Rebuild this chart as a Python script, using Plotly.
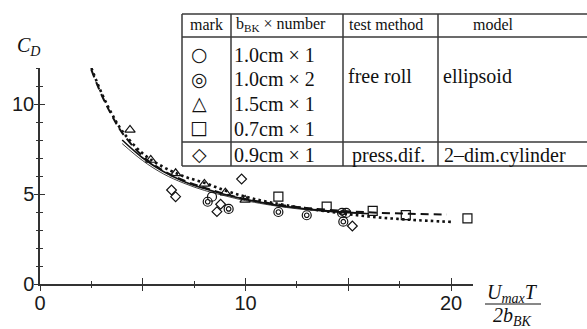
import plotly.graph_objects as go

# ---------------- data ----------------
circle_x = [8.37, 14.9]
circle_y = [4.85, 3.95]

dcircle_x = [8.16, 9.18, 11.6, 12.98, 14.7, 14.76]
dcircle_y = [4.57, 4.17, 4.0, 3.82, 3.95, 3.46]

triangle_x = [4.38, 5.39, 6.6, 8.0, 9.02, 9.98]
triangle_y = [8.56, 6.89, 6.15, 5.56, 5.07, 4.67]

square_x = [11.6, 13.95, 16.19, 17.8, 20.8]
square_y = [4.85, 4.3, 4.06, 3.83, 3.65]

diamond_x = [6.4, 6.6, 9.81, 8.79, 8.61, 15.2]
diamond_y = [5.22, 4.85, 5.83, 4.43, 4.02, 3.22]

dotted_x = [2.5, 3, 3.5, 4, 5, 6, 7, 8, 9, 10, 11, 12, 14, 16, 18, 20]
dotted_y = [12.0, 10.6, 9.45, 8.5, 7.25, 6.5, 5.98, 5.62, 5.2, 4.85, 4.58, 4.37, 4.03, 3.75, 3.57, 3.45]

dashed_x = [2.5, 3, 3.5, 4, 5, 6, 7, 8, 9, 10, 12, 14, 16, 18, 19.8]
dashed_y = [11.9, 10.5, 9.35, 8.4, 7.1, 6.3, 5.75, 5.35, 5.0, 4.72, 4.35, 4.12, 3.98, 3.9, 3.86]

solid_x = [4, 5, 6, 7, 8, 9, 10, 11, 12, 14, 16]
solid_y = [8.0, 7.0, 6.25, 5.7, 5.3, 4.97, 4.7, 4.48, 4.3, 4.06, 3.9]

solid2_x = [4, 5, 6, 7, 8, 9, 10, 12, 14, 15.5]
solid2_y = [7.8, 6.85, 6.12, 5.6, 5.2, 4.9, 4.63, 4.25, 4.02, 3.92]

x_label_ticks = [0, 10, 20]
x_tick_labels = ["0", "10", "20"]
x_major_ticks = [0, 5, 10, 15, 20]
x_mid_ticks = [5, 15]
x_minor_ticks = [2.5, 7.5, 12.5, 17.5]
y_major_ticks = [0, 5, 10]
y_tick_labels = ["0", "5", "10"]
y_minor_ticks = [1, 2, 3, 4, 6, 7, 8, 9, 11, 12]

table_marks = ["○", "◎", "△", "□", "◇"]
table_sizes = ["1.0cm × 1", "1.0cm × 2", "1.5cm × 1", "0.7cm × 1", "0.9cm × 1"]
table_headers = ["mark", "b<sub>BK</sub> × number", "test method", "model"]

# ---------------- layout geometry (pixels) ----------------
W, H = 587, 329
L, R, T, B = 40, 114, 68, 45
PW, PH = W - L - R, H - T - B
XMAX = PW / 20.55


def px(x):
    return (x - L) / PW


def py(y):
    return (H - B - y) / PH


SERIF = "Liberation Serif"
SANS = "Liberation Sans"
AX = "#333333"
BLK = "#111111"

fig = go.Figure()

# curves
fig.add_trace(go.Scatter(x=dashed_x, y=dashed_y, mode="lines", line_shape="spline",
                         line=dict(color=BLK, width=2, dash="8px,5px")))
fig.add_trace(go.Scatter(x=dotted_x, y=dotted_y, mode="lines", line_shape="spline",
                         line=dict(color=BLK, width=2.6, dash="2.6px,3.2px")))
fig.add_trace(go.Scatter(x=solid_x, y=solid_y, mode="lines", line_shape="spline",
                         line=dict(color=BLK, width=1.6)))
fig.add_trace(go.Scatter(x=solid2_x, y=solid2_y, mode="lines", line_shape="spline",
                         line=dict(color=BLK, width=0.8)))

mk = dict(color=BLK, line=dict(color=BLK, width=1.2))
fig.add_trace(go.Scatter(x=circle_x, y=circle_y, mode="markers",
                         marker=dict(symbol="circle-open", size=9, **mk)))
fig.add_trace(go.Scatter(x=dcircle_x, y=dcircle_y, mode="markers",
                         marker=dict(symbol="circle-open", size=9, **mk)))
fig.add_trace(go.Scatter(x=dcircle_x, y=dcircle_y, mode="markers",
                         marker=dict(symbol="circle-open", size=4.5, **mk)))
fig.add_trace(go.Scatter(x=triangle_x, y=triangle_y, mode="markers",
                         marker=dict(symbol="triangle-up-open", size=9, **mk)))
fig.add_trace(go.Scatter(x=square_x, y=square_y, mode="markers",
                         marker=dict(symbol="square-open", size=9, **mk)))
fig.add_trace(go.Scatter(x=diamond_x, y=diamond_y, mode="markers",
                         marker=dict(symbol="diamond-open", size=7.5, **mk)))
# invisible traces so the overlay axes (other halves of the ticks) are drawn
fig.add_trace(go.Scatter(x=[], y=[], xaxis="x2", yaxis="y2", mode="markers"))
fig.add_trace(go.Scatter(x=[], y=[], xaxis="x3", yaxis="y", mode="markers"))

axis_common = dict(showgrid=False, zeroline=False, tickcolor=AX, tickwidth=1.3)
minor_in = dict(ticks="inside", ticklen=3, tickcolor=AX, tickwidth=1.2)
minor_out = dict(ticks="outside", ticklen=3, tickcolor=AX, tickwidth=1.2)

fig.update_layout(
    width=W, height=H, margin=dict(l=L, r=R, t=T, b=B),
    paper_bgcolor="white", plot_bgcolor="white", showlegend=False,
    xaxis=dict(range=[0, XMAX], showline=True, linecolor=AX, linewidth=1.5,
               tickvals=x_label_ticks, ticktext=x_tick_labels, ticks="inside", ticklen=6,
               minor=dict(tickvals=x_minor_ticks, **minor_in),
               tickfont=dict(family=SANS, size=20, color="#1a1a1a"), **axis_common),
    yaxis=dict(range=[0, 12], showline=True, linecolor=AX, linewidth=1.5,
               tickvals=y_major_ticks, ticktext=y_tick_labels, ticks="inside", ticklen=5,
               minor=dict(tickvals=y_minor_ticks, **minor_in),
               tickfont=dict(family=SANS, size=20, color="#1a1a1a"), **axis_common),
    xaxis2=dict(range=[0, XMAX], overlaying="x", anchor="y2", side="bottom", showline=False,
                tickvals=x_major_ticks, showticklabels=False, ticks="outside", ticklen=6,
                minor=dict(tickvals=x_minor_ticks, **minor_out), **axis_common),
    xaxis3=dict(range=[0, XMAX], overlaying="x", anchor="y", side="bottom", showline=False,
                tickvals=x_mid_ticks, showticklabels=False, ticks="inside", ticklen=6,
                **axis_common),
    yaxis2=dict(range=[0, 12], overlaying="y", anchor="x2", side="left", showline=False,
                tickvals=y_major_ticks, showticklabels=False, ticks="outside", ticklen=5,
                minor=dict(tickvals=y_minor_ticks, **minor_out), **axis_common),
)

# ---------------- table ----------------
tx0, tx1 = 182, 600
c1, c2, c3 = 231, 343, 438
ty_top, ty_head, ty_sep, ty_bot = 14, 37, 142, 166
line = dict(color="#3a3a3a", width=1.5)
shapes = []
for yy in [ty_top, ty_head, ty_sep, ty_bot]:
    shapes.append(dict(type="line", xref="paper", yref="paper", x0=px(tx0), x1=px(tx1),
                       y0=py(yy), y1=py(yy), line=line))
for xx in [tx0, c1, c2, c3]:
    shapes.append(dict(type="line", xref="paper", yref="paper", x0=px(xx), x1=px(xx),
                       y0=py(ty_top), y1=py(ty_bot), line=line))
# fraction bar of x title
shapes.append(dict(type="line", xref="paper", yref="paper", x0=px(485), x1=px(541),
                   y0=py(304), y1=py(304), line=dict(color=BLK, width=1)))
fig.update_layout(shapes=shapes)

ann = []


def add_text(text, x, y, size, xanchor="left", family=SERIF, color=BLK):
    ann.append(dict(text=text, x=px(x), y=py(y), xref="paper", yref="paper", showarrow=False,
                    xanchor=xanchor, yanchor="middle", font=dict(family=family, size=size, color=color)))


add_text(table_headers[0], 206, 25, 16, "center")
add_text(table_headers[1], 234, 25, 16)
add_text(table_headers[2], 347, 25, 16)
add_text(table_headers[3], 493, 25, 16, "center")

row_y = [54, 78.5, 103, 127.5, 154]
for m, s, yy in zip(table_marks, table_sizes, row_y):
    add_text(m, 199, yy, 19, "center", family="DejaVu Sans")
    add_text(s, 232, yy + 1, 20)

add_text("free roll", 346, 76, 20)
add_text("ellipsoid", 441, 76, 20)
add_text("press.dif.", 350, 155, 20)
add_text("2–dim.cylinder", 442, 155, 20)

# axis titles
add_text("<i>C</i><sub><i>D</i></sub>", 28, 46, 20, "center")
add_text("<i>U</i><sub><i>max</i></sub><i>T</i>", 512, 293, 20, "center")
add_text("<i>2b</i><sub><i>BK</i></sub>", 512, 316, 20, "center")

fig.update_layout(annotations=ann)

fig.write_html("out.html")
